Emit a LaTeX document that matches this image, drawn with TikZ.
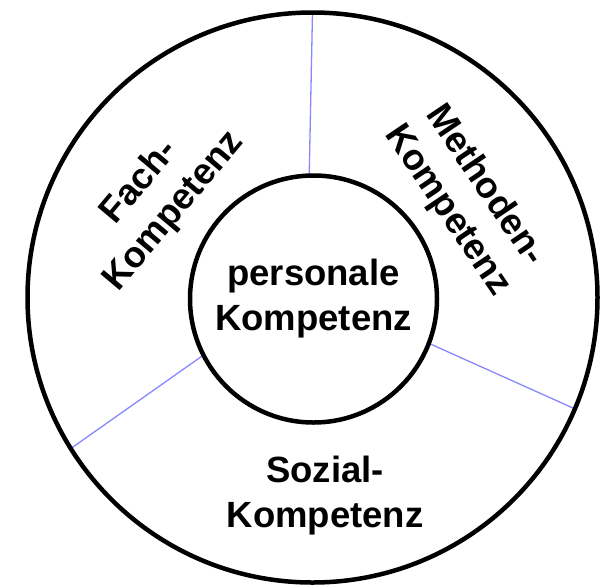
\documentclass[tikz,border=0pt]{standalone}
\usepackage{fontspec}
\setmainfont{Liberation Sans}
\pgfdeclarelayer{back}
\pgfsetlayers{back,main}
\definecolor{divblue}{RGB}{135,135,255}
\begin{document}
\begin{tikzpicture}[x=1pt,y=-1pt,
  ring/.style={circle,draw=black,line width=4.5pt,inner sep=0pt,outer sep=0pt},
  divider/.style={draw=divblue,line width=1.3pt},
  lbl/.style={font=\bfseries\fontsize{36.5}{45}\selectfont,align=center,inner sep=0pt}]
\useasboundingbox (0,0) rectangle (605,587);
\node[ring,minimum size=570pt] (outer) at (312.5,297.5) {};
\node[ring,minimum size=247pt,lbl] (inner) at (313.5,299) {personale\\Kompetenz};
\begin{pgfonlayer}{back}
\draw[divider] (inner.92.7) -- (outer.90);
\draw[divider] (inner.-21) -- (outer.-23.5);
\draw[divider] (inner.207.5) -- (outer.212.5);
\end{pgfonlayer}
\node[lbl,rotate=50] (fach) at (157,197) {Fach-\\Kompetenz};
\node[lbl,rotate=-56] (meth) at (466,198) {Methoden-\\Kompetenz};
\node[lbl] (sozial) at (325,495.5) {Sozial-\\Kompetenz};
\end{tikzpicture}
\end{document}
